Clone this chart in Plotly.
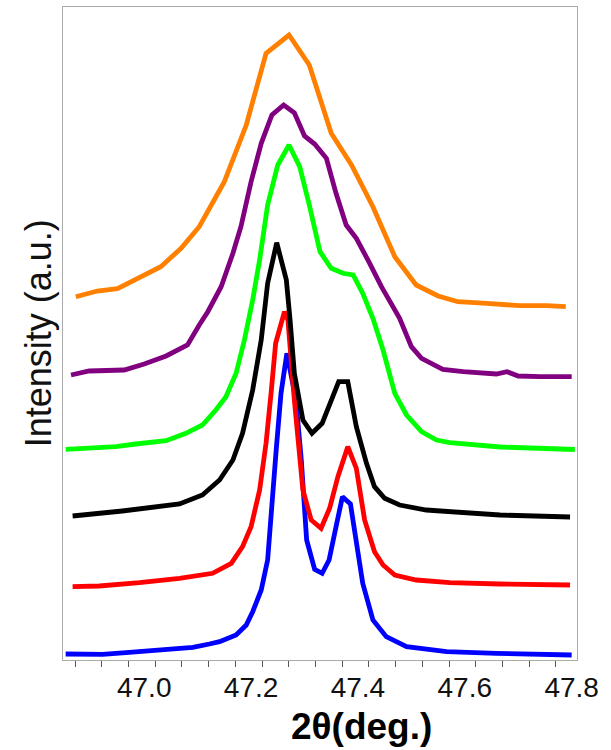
import numpy as np
import plotly.graph_objects as go

# ---- data (2theta in degrees, intensity in arbitrary units, offset stacked) ----
blue_x = [46.853, 46.922, 46.966, 47.009, 47.028, 47.091, 47.122, 47.141, 47.172, 47.191, 47.203, 47.219,
          47.231, 47.239, 47.247, 47.256, 47.267, 47.284, 47.294, 47.304, 47.319, 47.333, 47.346, 47.359,
          47.371, 47.386, 47.397, 47.409, 47.428, 47.453, 47.491, 47.566, 47.659, 47.759, 47.800]
blue_y = [6, 5.7, 7.3, 9, 10.7, 12.7, 16, 18.3, 25, 35, 48.3, 70,
          100, 160, 210, 266.7, 306.7, 260, 200, 120, 90.7, 86.7, 100, 133.3,
          163.3, 156, 120, 76.7, 40, 23.3, 13.3, 8.3, 6.7, 5.7, 5]

red_x = [46.866, 46.916, 46.991, 47.066, 47.128, 47.163, 47.184, 47.200, 47.216, 47.228, 47.238, 47.246,
         47.2625, 47.269, 47.281, 47.297, 47.3125, 47.331, 47.347, 47.3625, 47.381, 47.397, 47.4125,
         47.431, 47.447, 47.469, 47.509, 47.572, 47.666, 47.797]
red_y = [73.3, 74, 77.3, 81.7, 86.7, 96.7, 113.3, 133.3, 170, 216.7, 270, 316.7,
         348.3, 340, 260, 170, 140, 131.7, 151.7, 183.3, 213.3, 191.7, 140,
         108.3, 95, 85, 80, 77.3, 76, 75]

black_x = [46.866, 46.959, 47.066, 47.109, 47.141, 47.166, 47.184, 47.203, 47.219, 47.231, 47.248, 47.266,
           47.273, 47.281, 47.297, 47.314, 47.333, 47.364, 47.381, 47.397, 47.416, 47.431, 47.450,
           47.478, 47.528, 47.572, 47.666, 47.797]
black_y = [144, 149, 156, 165, 180, 200, 226.7, 270, 320, 376.7, 417.3, 380,
           340, 286.7, 240, 226.7, 236.7, 278.3, 278.3, 233.3, 196.7, 173.3, 161.7,
           155, 150, 148.3, 145, 143]

green_x = [46.853, 46.947, 46.984, 47.041, 47.078, 47.109, 47.134, 47.153, 47.172, 47.1875, 47.203, 47.216,
           47.231, 47.250, 47.271, 47.291, 47.309, 47.329, 47.350, 47.372, 47.391, 47.409, 47.428,
           47.447, 47.469, 47.491, 47.519, 47.547, 47.572, 47.666, 47.806]
green_y = [210.7, 213.3, 216, 219.3, 226.7, 235, 250, 263.3, 286.7, 320, 360, 400,
           455, 495, 515, 493.3, 455, 408.3, 391.7, 386.7, 385, 366.7, 341.7,
           310, 266.7, 245, 228.3, 220, 217.3, 213, 210.5]

purple_x = [46.863, 46.897, 46.9625, 47.000, 47.041, 47.081, 47.103, 47.119, 47.144, 47.166, 47.181, 47.200,
            47.219, 47.239, 47.261, 47.281, 47.300, 47.319, 47.341, 47.359, 47.378, 47.397, 47.422,
            47.444, 47.478, 47.500, 47.519, 47.559, 47.597, 47.659, 47.679, 47.700, 47.741, 47.800]
purple_y = [285, 289, 290, 296, 304, 315, 335, 348.3, 373.3, 406.7, 433.3, 478.3,
            516.7, 545, 555, 547.3, 524, 516, 501.7, 466.7, 435, 421.7, 396.7,
            373.3, 341.7, 313.3, 301.7, 290.7, 288.3, 286, 288.3, 284, 283.3, 283.3]

orange_x = [46.872, 46.912, 46.950, 46.991, 47.031, 47.069, 47.103, 47.150, 47.191, 47.228, 47.271, 47.309,
            47.350, 47.388, 47.428, 47.469, 47.509, 47.550, 47.587, 47.641, 47.703, 47.753, 47.789]
orange_y = [363.3, 369, 371.3, 382.7, 393.3, 411.7, 433.3, 478.3, 535, 606.7, 625, 595,
            526.7, 495, 453.3, 403.3, 375, 364, 358.3, 356.7, 354.3, 354.3, 353.3]

tick_label_values = [47.0, 47.2, 47.4, 47.6, 47.8]
tick_label_text = ["47.0", "47.2", "47.4", "47.6", "47.8"]

series = [
    ("blue", blue_x, blue_y, "#0000ff"),
    ("red", red_x, red_y, "#ff0000"),
    ("black", black_x, black_y, "#000000"),
    ("green", green_x, green_y, "#00ff00"),
    ("purple", purple_x, purple_y, "#800080"),
    ("orange", orange_x, orange_y, "#ff8000"),
]

X_RANGE = [46.848, 47.810]
Y_RANGE = [0, 653]

fig = go.Figure()
for name, xs, ys, col in series:
    fig.add_trace(go.Scatter(x=xs, y=ys, mode="lines", name=name,
                             line=dict(color=col, width=4.8),
                             showlegend=False, hoverinfo="skip"))

# tick marks (offset from the labels, as in the original figure)
tick_marks = np.round(np.arange(46.8706, 47.81, 0.05), 4)
fig.add_trace(go.Scatter(x=[X_RANGE[0]], y=[-100], xaxis="x2", mode="markers",
                         marker=dict(opacity=0), showlegend=False, hoverinfo="skip"))

FONT = "Liberation Sans, Arial, sans-serif"
fig.update_layout(
    width=611, height=750,
    margin=dict(l=63, r=34, t=7, b=90),
    paper_bgcolor="white", plot_bgcolor="white",
    font=dict(family=FONT, color="#111111"),
    xaxis=dict(range=X_RANGE, tickmode="array", tickvals=tick_label_values, ticktext=tick_label_text,
               ticks="", showline=True, linecolor="#aaaaaa", linewidth=1, mirror=True,
               showgrid=False, zeroline=False, tickfont=dict(size=28, family=FONT, color="#111111"),
               ticklabelstandoff=2),
    xaxis2=dict(range=X_RANGE, overlaying="x", anchor="y", side="bottom",
                tickmode="array", tickvals=tick_marks, showticklabels=False,
                ticks="outside", ticklen=6, tickwidth=1, tickcolor="#555555",
                showline=False, showgrid=False, zeroline=False),
    yaxis=dict(range=Y_RANGE, showline=True, linecolor="#aaaaaa", linewidth=1, mirror=True,
               showticklabels=False, ticks="", showgrid=False, zeroline=False),
    annotations=[
        dict(text="2θ(deg.)", xref="paper", yref="paper", x=0.581, y=-0.1026,
             xanchor="center", yanchor="middle", showarrow=False,
             font=dict(size=37, family=FONT, color="#000000", weight="bold")),
        dict(text="Intensity (a.u.)", xref="paper", yref="paper", x=-0.0486, y=0.5003,
             xanchor="center", yanchor="middle", showarrow=False, textangle=-90,
             font=dict(size=36, family=FONT, color="#111111")),
    ],
)

fig.write_html("out.html", config={"displayModeBar": False},
               post_script="document.body.style.margin='0';document.body.style.overflow='hidden';")
